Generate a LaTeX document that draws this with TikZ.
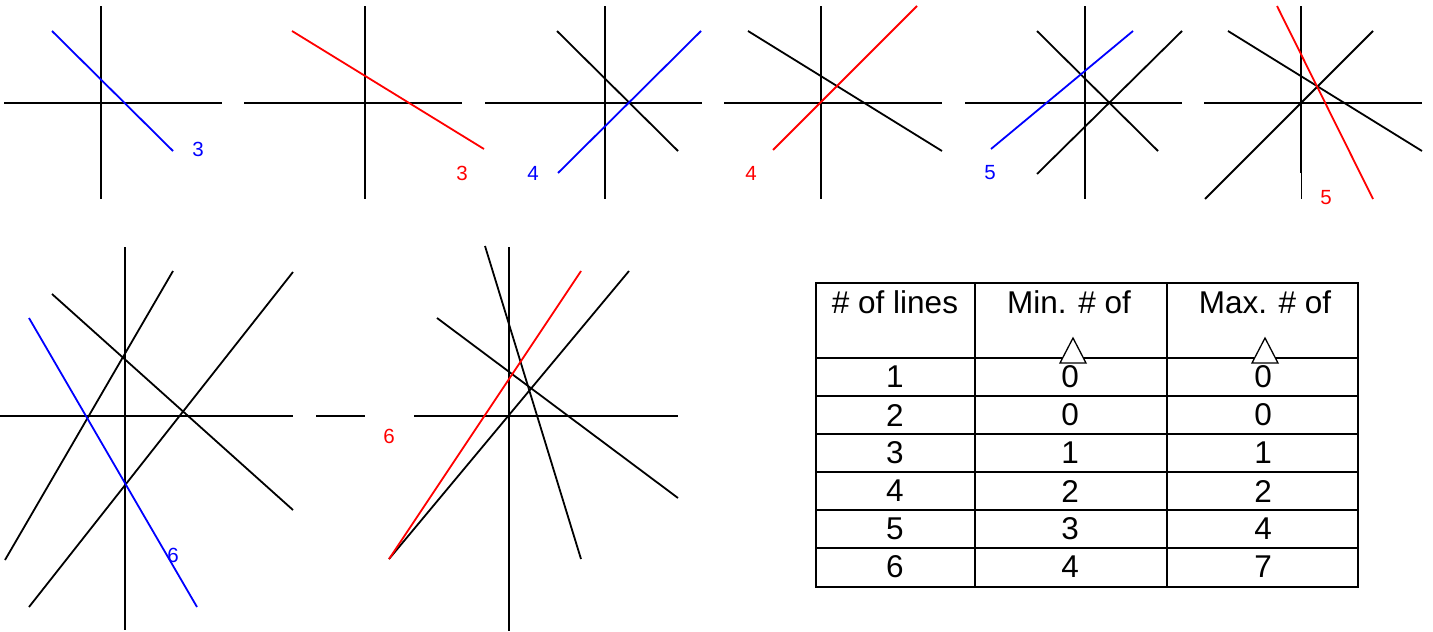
\documentclass[tikz,border=0pt]{standalone}
\usepackage{fontspec}
\setmainfont{Liberation Sans}
\usetikzlibrary{positioning}

\begin{document}
\begin{tikzpicture}[
    x=1pt, y=-1pt,
    axis/.style={line width=1.9pt},
    blk/.style={line width=1.8pt},
    bl/.style={line width=1.8pt, blue},
    rd/.style={line width=1.8pt, red},
    lbl/.style={font=\fontsize{20.5}{24}\selectfont, inner sep=0pt},
    cell/.style={font=\fontsize{31.5}{36}\selectfont, inner sep=0pt},
    rule/.style={line width=1.9pt}
]
\useasboundingbox (0,0) rectangle (1433,632);

% Panel 1: three lines
\draw[axis] (4,102.7) -- (222,102.7);
\draw[axis] (100.7,6) -- (100.7,199);
\draw[bl] (52,31) -- (173,151);
\node[lbl, blue] (labA) at (198,149) {3};

% Panel 2: three lines
\draw[axis] (244,102.7) -- (462,102.7);
\draw[axis] (365,6) -- (365,199);
\draw[rd] (292,31) -- (484,149);
\node[lbl, red] (labB) at (462,173) {3};

% Panel 3: four lines
\draw[axis] (485,102.7) -- (702,102.7);
\draw[axis] (605,6) -- (605,199);
\draw[blk] (557,31) -- (678,151);
\draw[bl] (558,173) -- (701,31);
\node[lbl, blue] (labC) at (533,173) {4};

% Panel 4: four lines
\draw[axis] (724,102.7) -- (942,102.7);
\draw[axis] (821,6) -- (821,199);
\draw[blk] (748,31) -- (942,151);
\draw[rd] (773,150) -- (917,6);
\node[lbl, red] (labD) at (751,173) {4};

% Panel 5: five lines
\draw[axis] (965,102.7) -- (1182,102.7);
\draw[axis] (1085,6) -- (1085,199);
\draw[blk] (1037,31) -- (1158,151);
\draw[blk] (1037,174) -- (1182,31);
\draw[bl] (991,149) -- (1133,31);
\node[lbl, blue] (labE) at (990,173) {5};

% Panel 6: five lines
\draw[axis] (1204,102.7) -- (1422,102.7);
\draw[axis] (1301,6) -- (1301,173);
\draw[line width=0.8pt] (1301,173) -- (1301,199);
\draw[blk] (1228,31) -- (1422,151);
\draw[blk] (1205,199) -- (1373,31);
\draw[rd] (1277,6) -- (1373,199);
\node[lbl, red] (labF) at (1326,198) {5};

% Panel 7: six lines
\draw[axis] (0,415.7) -- (293,415.7);
\draw[axis] (125,247) -- (125,630);
\draw[blk] (5,560) -- (173,271);
\draw[blk] (52,294) -- (293,510);
\draw[blk] (29,607) -- (293,272);
\draw[bl] (29,318) -- (197,607);
\node[lbl, blue] (labG) at (173,555) {6};

% Panel 8: six lines
\draw[axis] (316,415.7) -- (365,415.7);
\draw[axis] (414,415.7) -- (678,415.7);
\draw[axis] (509,247) -- (509,631);
\draw[blk] (485,246) -- (581,559);
\draw[blk] (437,318) -- (678,498);
\draw[blk] (389,559) -- (629,271);
\draw[rd] (389,559) -- (581,271);
\node[lbl, red] (labH) at (389,436) {6};

% Table
\draw[rule] (816,283) rectangle (1358,587);
\draw[rule] (975,283) -- (975,587);
\draw[rule] (1167,283) -- (1167,587);
\draw[rule] (816,358) -- (1358,358);
\draw[rule] (816,396) -- (1358,396);
\draw[rule] (816,434) -- (1358,434);
\draw[rule] (816,472) -- (1358,472);
\draw[rule] (816,510) -- (1358,510);
\draw[rule] (816,548) -- (1358,548);

\node[cell] (hd1) at (895,302) {\# of lines};
\node[cell] (hd2) at (1069,302) {Min. \# of};
\node[cell] (hd3) at (1265,302) {Max. \# of};
\draw[line width=1.3pt, fill=white] (1073,338) -- (1060,363) -- (1086,363) -- cycle;
\draw[line width=1.3pt, fill=white] (1265,338) -- (1252,363) -- (1278,363) -- cycle;

\node[cell] (r1a) at (895,377) {1};
\node[cell] (r1b) at (1070,377) {0};
\node[cell] (r1c) at (1263,377) {0};
\node[cell] (r2a) at (895,415) {2};
\node[cell] (r2b) at (1070,415) {0};
\node[cell] (r2c) at (1263,415) {0};
\node[cell] (r3a) at (895,453) {3};
\node[cell] (r3b) at (1070,453) {1};
\node[cell] (r3c) at (1263,453) {1};
\node[cell] (r4a) at (895,491) {4};
\node[cell] (r4b) at (1070,491) {2};
\node[cell] (r4c) at (1263,491) {2};
\node[cell] (r5a) at (895,529) {5};
\node[cell] (r5b) at (1070,529) {3};
\node[cell] (r5c) at (1263,529) {4};
\node[cell] (r6a) at (895,567) {6};
\node[cell] (r6b) at (1070,567) {4};
\node[cell] (r6c) at (1263,567) {7};

\end{tikzpicture}
\end{document}
